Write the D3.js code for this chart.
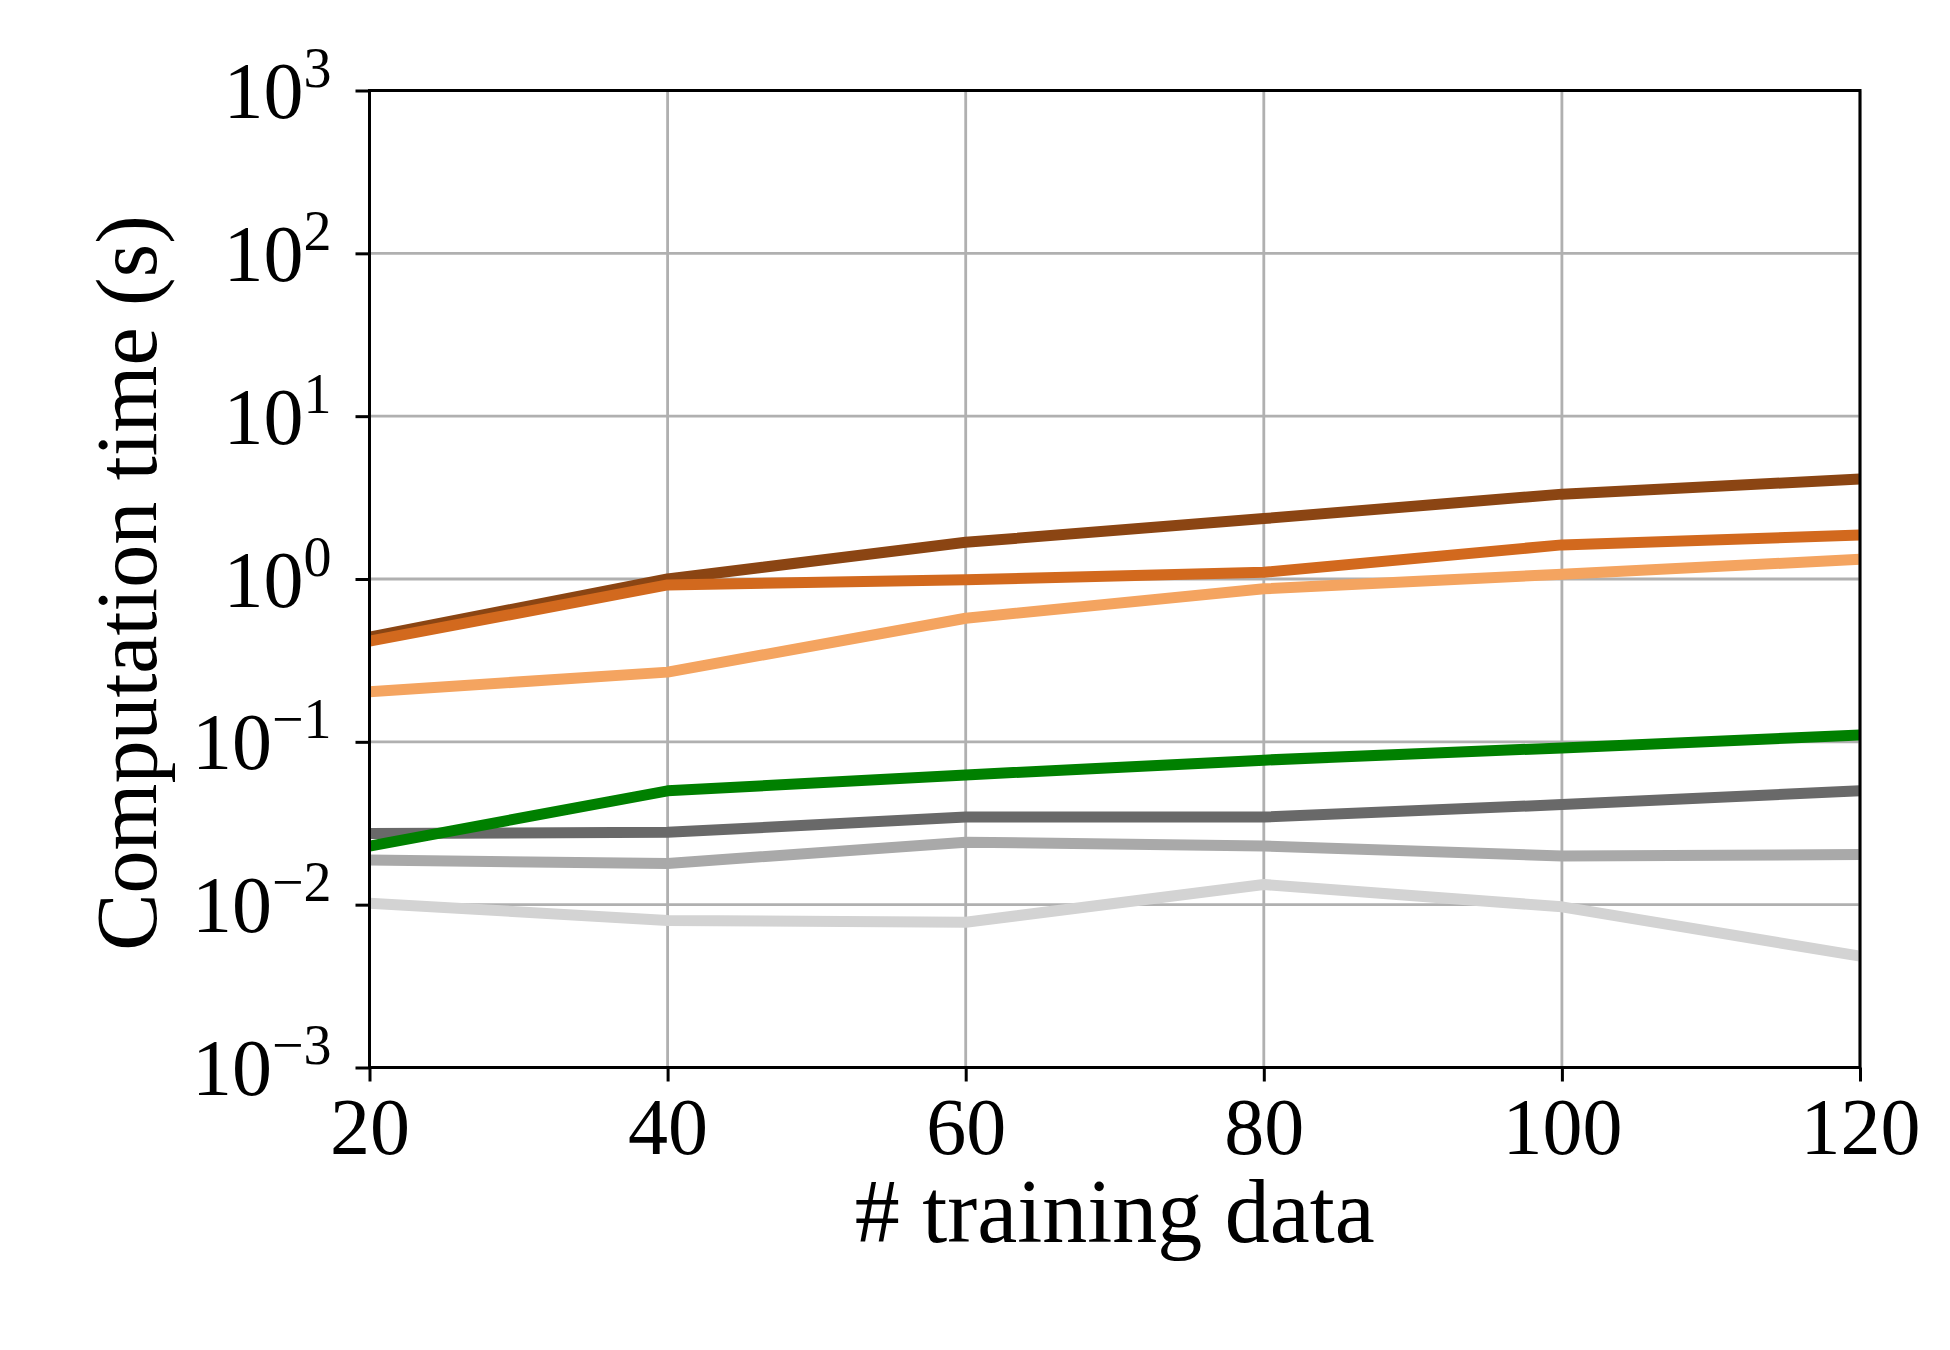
<!DOCTYPE html>
<html>
<head>
<meta charset="utf-8">
<script src="https://cdn.jsdelivr.net/npm/d3@7"></script>
<style>
  html, body { margin: 0; padding: 0; background: #fff; }
  svg { display: block; }
  text { font-family: "Liberation Serif", "DejaVu Serif", serif; fill: #000; }
</style>
</head>
<body>
<svg id="chart" width="1950" height="1350"></svg>
<script>
// ---- data ----
const trainingSizes = [20, 40, 60, 80, 100, 120];
const seriesNames = ["s1", "s2", "s3", "s4", "s5", "s6", "s7"];
const seriesColors = ["#8B4513", "#D2691E", "#F4A460", "#D3D3D3", "#A9A9A9", "#696969", "#008000"];
const brownValues      = [0.44, 1.00, 1.68, 2.35, 3.32, 4.11];
const orangeValues     = [0.415, 0.92, 0.99, 1.10, 1.62, 1.86];
const sandyValues      = [0.203, 0.268, 0.574, 0.87, 1.07, 1.32];
const lightGrayValues  = [0.0102, 0.0080, 0.0078, 0.0133, 0.0097, 0.00483];
const darkGrayValues   = [0.0188, 0.0179, 0.0242, 0.0229, 0.0199, 0.0203];
const dimGrayValues    = [0.0274, 0.0278, 0.0345, 0.0345, 0.0412, 0.0500];
const greenValues      = [0.0229, 0.0500, 0.0626, 0.0772, 0.0918, 0.1100];
const seriesValues = [brownValues, orangeValues, sandyValues, lightGrayValues, darkGrayValues, dimGrayValues, greenValues];
const xTicks = [20, 40, 60, 80, 100, 120];
const yTicks = [1e-3, 1e-2, 1e-1, 1e0, 1e1, 1e2, 1e3];
const yTickExponents = ["\u22123", "\u22122", "\u22121", "0", "1", "2", "3"];
const xLabel = "# training data";
const yLabel = "Computation time (s)";

// ---- layout ----
const L = 369.5, R = 1860, T = 90.5, B = 1067.5;
const svg = d3.select("#chart");
const x = d3.scaleLinear().domain([20, 120]).range([L, R]);
const y = d3.scaleLog().domain([1e-3, 1e3]).range([B, T]);

// grid
const grid = svg.append("g");
grid.selectAll("line.vx").data(xTicks).join("line")
  .attr("x1", d => x(d)).attr("x2", d => x(d)).attr("y1", T).attr("y2", B)
  .attr("stroke", "#b0b0b0").attr("stroke-width", 2.8);
grid.selectAll("line.hy").data(yTicks).join("line")
  .attr("x1", L).attr("x2", R).attr("y1", d => y(d)).attr("y2", d => y(d))
  .attr("stroke", "#b0b0b0").attr("stroke-width", 2.8);

// lines
const lineGen = d3.line().x((d, i) => x(trainingSizes[i])).y(d => y(d));
const plot = svg.append("g");
seriesValues.forEach((vals, k) => {
  plot.append("path").datum(vals)
    .attr("d", lineGen)
    .attr("fill", "none")
    .attr("stroke", seriesColors[k])
    .attr("stroke-width", 11)
    .attr("stroke-linejoin", "round")
    .attr("stroke-linecap", "butt");
});

// axes
const xAxis = d3.axisBottom(x).tickValues(xTicks).tickSize(14).tickPadding(0).tickFormat(d3.format("d"));
const gx = svg.append("g").attr("transform", `translate(0,${B})`).call(xAxis);
gx.select(".domain").remove();
gx.selectAll(".tick line").attr("stroke", "#000").attr("stroke-width", 3);
gx.selectAll(".tick text")
  .attr("font-size", 80).attr("dy", null).attr("y", 86)
  .style("font-family", '"Liberation Serif", serif');

const yAxis = d3.axisLeft(y).tickValues(yTicks).tickSize(14).tickFormat(() => "");
const gy = svg.append("g").attr("transform", `translate(${L},0)`).call(yAxis);
gy.select(".domain").remove();
gy.selectAll(".tick line").attr("stroke", "#000").attr("stroke-width", 3);
gy.selectAll(".tick text").each(function(d, i) {
  const t = d3.select(this);
  t.text(null).attr("x", -38).attr("dy", null).attr("y", 27)
    .attr("text-anchor", "end").attr("font-size", 80)
    .style("font-family", '"Liberation Serif", serif');
  t.append("tspan").text("10");
  t.append("tspan").attr("font-size", 56).attr("dy", -31).text(yTickExponents[i]);
});

// frame
svg.append("rect").attr("x", L).attr("y", T).attr("width", R - L).attr("height", B - T)
  .attr("fill", "none").attr("stroke", "#000").attr("stroke-width", 3);

// labels
svg.append("text").attr("x", (L + R) / 2).attr("y", 1242)
  .attr("text-anchor", "middle").attr("font-size", 90).text(xLabel);
svg.append("text").attr("transform", `translate(156,${(T + B) / 2 + 4}) rotate(-90)`)
  .attr("text-anchor", "middle").attr("font-size", 86).text(yLabel);
</script>
</body>
</html>
